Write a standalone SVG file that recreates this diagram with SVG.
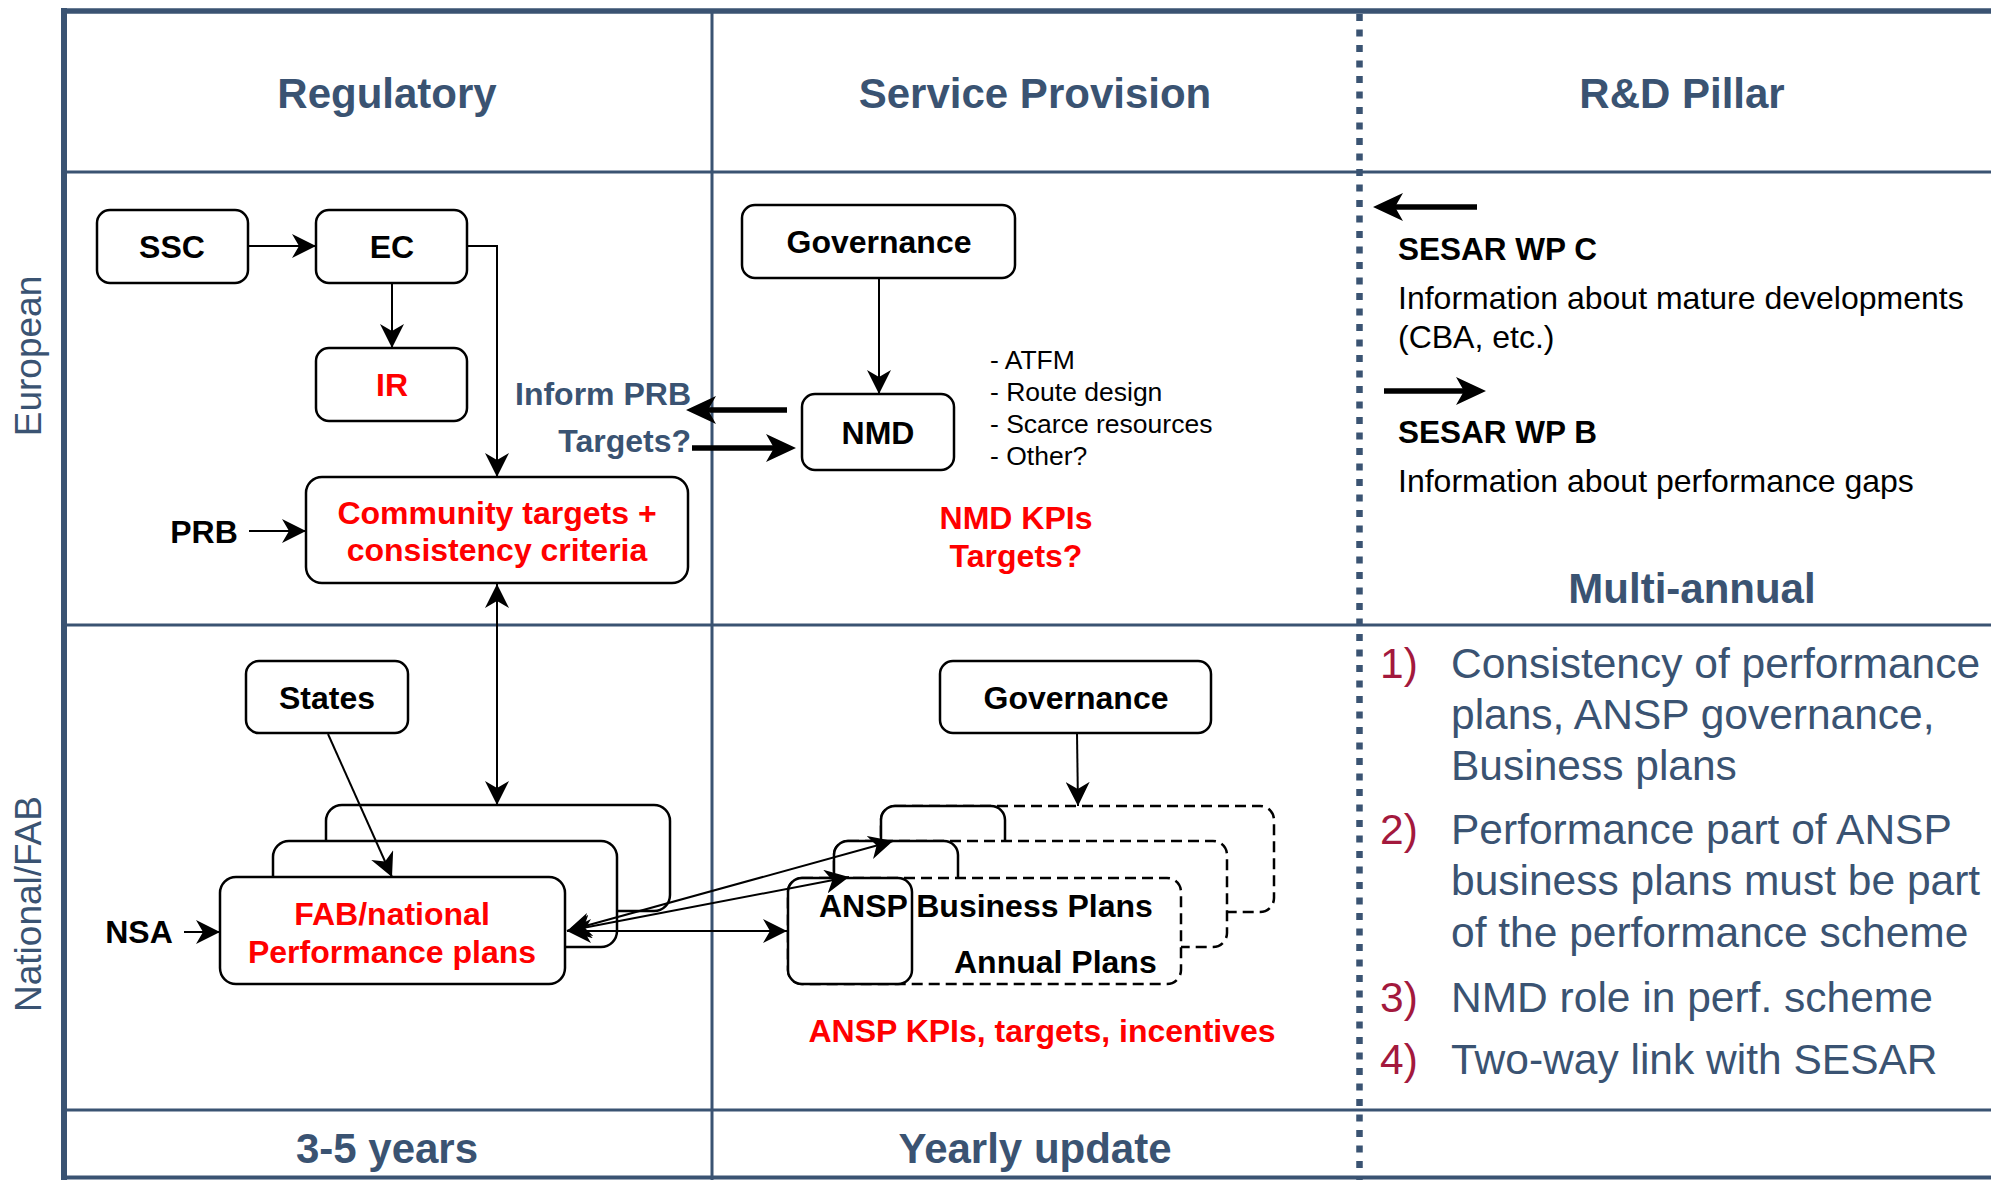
<svg xmlns="http://www.w3.org/2000/svg" width="1991" height="1180" viewBox="0 0 1991 1180">
<style>
  .frame{stroke:#3a5372;fill:none}
  .box{fill:#fff;stroke:#000;stroke-width:2.5}
  .dbox{fill:#fff;stroke:#000;stroke-width:2.5;stroke-dasharray:11 6}
  .con{fill:none;stroke:#000;stroke-width:2}
  .thick{fill:none;stroke:#000;stroke-width:5.5}
  text{font-family:"Liberation Sans",Arial,sans-serif}
  .hdr{font-size:42px;font-weight:bold;fill:#3a5372;text-anchor:middle}
  .side{font-size:37px;fill:#3a5372;text-anchor:middle}
  .lbl{font-size:32px;font-weight:bold;fill:#000;text-anchor:middle}
  .lbls{font-size:32px;font-weight:bold;fill:#000;text-anchor:start}
  .red{font-size:32px;font-weight:bold;fill:#ff0000;text-anchor:middle}
  .slate{font-size:32px;font-weight:bold;fill:#3a5372;text-anchor:end}
  .bul{font-size:26.5px;fill:#000}
  .info{font-size:32px;fill:#000}
  .infob{font-size:31.5px;font-weight:bold;fill:#000}
  .num{font-size:42.5px;fill:#a3193d}
  .itm{font-size:42.5px;fill:#3a5372}
</style>
<defs>
  <marker id="ah" viewBox="0 0 24 24" refX="24" refY="12" markerWidth="24" markerHeight="24" markerUnits="userSpaceOnUse" orient="auto-start-reverse">
    <path d="M0,0 L24,12 L0,24 L7,12 z" fill="#000"/>
  </marker>
  <marker id="ahb" viewBox="0 0 30 28" refX="20" refY="14" markerWidth="30" markerHeight="28" markerUnits="userSpaceOnUse" orient="auto-start-reverse">
    <path d="M0,0 L30,14 L0,28 L8,14 z" fill="#000"/>
  </marker>
</defs>
<rect width="1991" height="1180" fill="#fff"/>

<g id="frame">
  <line class="frame" x1="61" y1="11" x2="1991" y2="11" stroke-width="5.5"/>
  <line class="frame" x1="64" y1="8" x2="64" y2="1180" stroke-width="6"/>
  <line class="frame" x1="64" y1="172" x2="1991" y2="172" stroke-width="3"/>
  <line class="frame" x1="64" y1="625" x2="1991" y2="625" stroke-width="3"/>
  <line class="frame" x1="64" y1="1110" x2="1991" y2="1110" stroke-width="3"/>
  <line class="frame" x1="64" y1="1177.5" x2="1991" y2="1177.5" stroke-width="4"/>
  <line class="frame" x1="712" y1="11" x2="712" y2="1180" stroke-width="3"/>
  <line class="frame" x1="1359.5" y1="14" x2="1359.5" y2="1180" stroke-width="6.5" stroke-dasharray="7 8.5"/>
</g>

<g id="headers">
  <text class="hdr" x="387" y="108">Regulatory</text>
  <text class="hdr" x="1035" y="108">Service Provision</text>
  <text class="hdr" x="1682" y="108">R&amp;D Pillar</text>
  <text class="hdr" x="387" y="1163">3-5 years</text>
  <text class="hdr" x="1035" y="1163">Yearly update</text>
  <text class="hdr" x="1692" y="603">Multi-annual</text>
  <text class="side" transform="translate(41,356) rotate(-90)">European</text>
  <text class="side" transform="translate(41,904) rotate(-90)">National/FAB</text>
</g>

<g id="ssc"><rect class="box" x="97" y="210" width="151" height="73" rx="13"/><text class="lbl" x="172" y="257.5">SSC</text></g>
<g id="ec"><rect class="box" x="316" y="210" width="151" height="73" rx="13"/><text class="lbl" x="392" y="257.5">EC</text></g>
<g id="ir"><rect class="box" x="316" y="348" width="151" height="73" rx="13"/><text class="red" x="392" y="395.5">IR</text></g>
<g id="community"><rect class="box" x="306" y="477" width="382" height="106" rx="16"/><text class="red" x="497" y="523.5">Community targets +</text><text class="red" x="497" y="560.5">consistency criteria</text></g>
<g id="prb"><text class="lbl" x="204" y="543">PRB</text></g>
<g id="inform"><text class="slate" x="691" y="405">Inform PRB</text><text class="slate" x="691" y="452">Targets?</text></g>
<g id="gov-eu"><rect class="box" x="742" y="205" width="273" height="73" rx="13"/><text class="lbl" x="879" y="252.5">Governance</text></g>
<g id="nmd"><rect class="box" x="802" y="394" width="152" height="76" rx="13"/><text class="lbl" x="878" y="443.5">NMD</text></g>
<g id="nmd-list">
  <text class="bul" x="990" y="369">- ATFM</text>
  <text class="bul" x="990" y="401">- Route design</text>
  <text class="bul" x="990" y="433">- Scarce resources</text>
  <text class="bul" x="990" y="465">- Other?</text>
</g>
<g id="nmd-kpis"><text class="red" x="1016" y="528.5">NMD KPIs</text><text class="red" x="1016" y="566.5">Targets?</text></g>

<g id="sesar">
  <text class="infob" x="1398" y="260">SESAR WP C</text>
  <text class="info" x="1398" y="309">Information about mature developments</text>
  <text class="info" x="1398" y="348">(CBA, etc.)</text>
  <text class="infob" x="1398" y="443">SESAR WP B</text>
  <text class="info" x="1398" y="492">Information about performance gaps</text>
</g>

<g id="states"><rect class="box" x="246" y="661" width="162" height="72" rx="13"/><text class="lbl" x="327" y="708.5">States</text></g>
<g id="nsa"><text class="lbl" x="139" y="943">NSA</text></g>
<g id="fab">
  <rect class="box" x="326" y="805" width="344" height="106" rx="16"/>
  <rect class="box" x="273" y="841" width="344" height="106" rx="16"/>
  <rect class="box" x="220" y="877" width="345" height="107" rx="16"/>
  <text class="red" x="392" y="924.5">FAB/national</text>
  <text class="red" x="392" y="962.5">Performance plans</text>
</g>
<g id="gov-nat"><rect class="box" x="940" y="661" width="271" height="72" rx="13"/><text class="lbl" x="1076" y="708.5">Governance</text></g>
<g id="ansp">
  <rect class="dbox" x="881" y="806" width="393" height="106" rx="14"/>
  <rect class="box" x="881" y="806" width="124" height="106" rx="14"/>
  <rect class="dbox" x="834" y="841" width="393" height="106" rx="14"/>
  <rect class="box" x="834" y="841" width="124" height="106" rx="14"/>
  <rect class="dbox" x="788" y="878" width="393" height="106" rx="14"/>
  <rect class="box" x="788" y="878" width="124" height="106" rx="14"/>
  <text class="lbls" x="819" y="916.5">ANSP Business Plans</text>
  <text class="lbls" x="954" y="972.5">Annual Plans</text>
</g>
<g id="ansp-kpis"><text class="red" x="1042" y="1041.5">ANSP KPIs, targets, incentives</text></g>

<g id="connectors">
  <line class="con" x1="248" y1="246" x2="316" y2="246" marker-end="url(#ah)"/>
  <line class="con" x1="392" y1="283" x2="392" y2="348" marker-end="url(#ah)"/>
  <polyline class="con" points="467,246 497,246 497,477" marker-end="url(#ah)"/>
  <line class="con" x1="249" y1="531" x2="306" y2="531" marker-end="url(#ah)"/>
  <line class="con" x1="497" y1="584" x2="497" y2="805" marker-start="url(#ah)" marker-end="url(#ah)"/>
  <line class="con" x1="879" y1="278" x2="879" y2="394" marker-end="url(#ah)"/>
  <line class="thick" x1="787" y1="410" x2="696" y2="410" marker-end="url(#ahb)"/>
  <line class="thick" x1="692" y1="448" x2="786" y2="448" marker-end="url(#ahb)"/>
  <line class="thick" x1="1477" y1="207" x2="1383" y2="207" marker-end="url(#ahb)"/>
  <line class="thick" x1="1384" y1="391" x2="1476" y2="391" marker-end="url(#ahb)"/>
  <line class="con" x1="184" y1="932" x2="220" y2="932" marker-end="url(#ah)"/>
  <line class="con" x1="328" y1="734" x2="392" y2="877" marker-end="url(#ah)"/>
  <line class="con" x1="1077" y1="733" x2="1078" y2="806" marker-end="url(#ah)"/>
  <line class="con" x1="567" y1="931" x2="787" y2="931" marker-start="url(#ah)" marker-end="url(#ah)"/>
  <line class="con" x1="567" y1="931" x2="893" y2="841" marker-start="url(#ah)" marker-end="url(#ah)"/>
  <line class="con" x1="567" y1="931" x2="849" y2="877" marker-start="url(#ah)" marker-end="url(#ah)"/>
</g>

<g id="points">
  <text class="num" x="1380" y="678">1)</text>
  <text class="itm" x="1451" y="678">Consistency of performance</text>
  <text class="itm" x="1451" y="729">plans, ANSP governance,</text>
  <text class="itm" x="1451" y="780">Business plans</text>
  <text class="num" x="1380" y="844">2)</text>
  <text class="itm" x="1451" y="844">Performance part of ANSP</text>
  <text class="itm" x="1451" y="895">business plans must be part</text>
  <text class="itm" x="1451" y="947">of the performance scheme</text>
  <text class="num" x="1380" y="1012">3)</text>
  <text class="itm" x="1451" y="1012">NMD role in perf. scheme</text>
  <text class="num" x="1380" y="1074">4)</text>
  <text class="itm" x="1451" y="1074">Two-way link with SESAR</text>
</g>
</svg>
